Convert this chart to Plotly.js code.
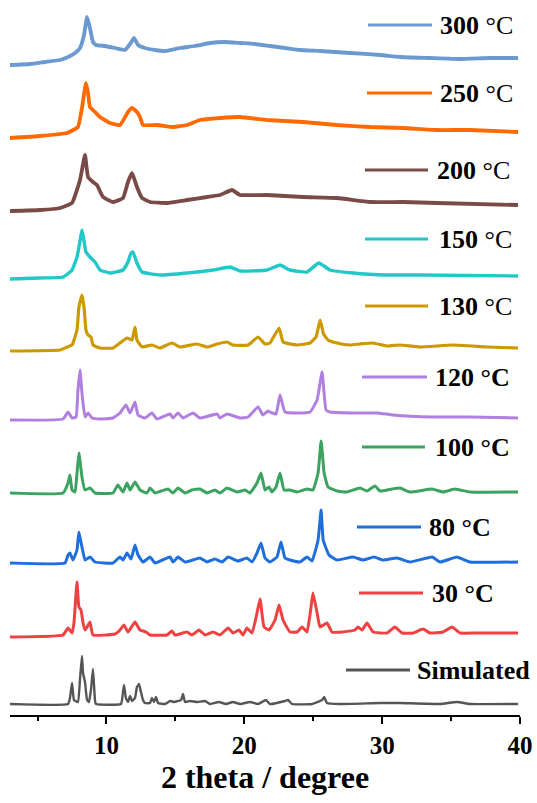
<!DOCTYPE html>
<html><head><meta charset="utf-8">
<script src="https://cdn.plot.ly/plotly-3.0.1.min.js"></script>
<style>html,body{margin:0;padding:0;background:#fff}#chart{width:537px;height:803px}</style>
</head><body><div id="chart"></div>
<script>
// ---- data: 2θ (degree) and intensity (a.u., baseline-subtracted), stacked with offsets ----
const labels = ['Simulated','30 °C','80 °C','100 °C','120 °C','130 °C','150 °C','200 °C','250 °C','300 °C'];
const offsets = [11, 78, 152, 222, 295, 364, 436, 504, 577, 650];
const colors = ['#555555','#EE4242','#1E6FDC','#3BA35F','#B07FE0','#CC9900','#22C8C8','#7A4A47','#FF6A00','#6A9AD0'];

const xSim = [3.0,7.21,7.35,7.50,7.64,7.93,8.08,8.22,8.30,8.44,8.59,8.73,8.88,9.02,9.17,9.24,11.05,11.2,11.27,11.41,11.56,11.71,11.85,12.07,12.21,12.36,12.50,12.65,12.79,13.16,13.3,13.45,13.59,13.74,14.25,14.61,14.9,15.41,15.55,15.7,16.06,16.57,17.15,17.51,18.16,18.67,19.18,19.69,20.41,21.0,21.57,21.86,22.95,23.17,23.46,24.91,25.64,25.79,26.0,26.94,29.84,31.29,34.2,35.43,36.37,39.86];
const ySim = [0,0,6,21,4,2,25,48,31,22,4,2,15,35,3,0,0,12,19,6,2,8,3,6,17,20,12,4,1,1,6,2,7,1,0,3,2,4,10,2,3,2,3,0,2,0,2,0,2,0,4,0,3,4,0,0,4,7,1,0,1,1,0,2,0,0];

const x30 = [3.0,6.85,7.21,7.50,7.64,7.86,8.0,8.15,8.30,8.44,8.59,8.80,9.02,10.62,10.98,11.27,11.56,12.07,12.43,12.87,13.16,14.39,14.75,14.97,15.84,16.2,16.71,17.15,17.73,18.24,18.82,19.18,19.62,19.9,20.19,20.56,20.92,21.14,21.43,21.79,22.23,22.52,22.81,23.31,23.82,24.19,24.55,24.84,24.98,25.28,25.49,26.0,26.36,27.16,28.03,28.25,28.54,28.9,29.34,30.35,30.93,31.44,32.24,32.96,33.47,34.41,35.07,35.65,36.88,39.86];
const y30 = [0,2,9,4,14,55,30,27,14,7,10,15,2,3,7,12,5,15,7,5,2,2,6,2,5,2,7,2,5,2,9,4,7,2,9,4,24,38,10,7,17,32,17,5,5,10,5,30,44,24,10,14,5,5,7,10,7,14,5,4,10,4,4,8,4,5,10,4,4,4];

const x80 = [3.0,6.99,7.21,7.35,7.57,7.86,8.0,8.22,8.44,8.80,9.17,10.47,10.98,11.2,11.49,11.78,12.07,12.29,12.65,13.16,13.52,14.61,14.83,15.19,15.7,16.78,17.29,17.87,18.38,18.82,19.54,20.19,20.56,20.92,21.21,21.5,21.86,22.37,22.66,22.95,23.31,24.04,24.55,24.91,25.35,25.57,25.72,26.14,26.72,27.88,28.61,29.41,30.06,31.08,32.02,33.62,34.2,35.43,36.37,39.86];
const y80 = [0,0,8,10,3,13,31,16,3,6,1,0,6,3,10,4,18,8,1,6,0,6,1,6,1,5,1,4,1,6,2,5,1,10,20,5,1,6,21,5,3,1,6,2,23,53,23,8,3,6,3,6,3,5,1,6,1,6,1,1];

const x100 = [3.0,6.85,7.21,7.35,7.50,7.72,7.86,8.0,8.22,8.44,8.80,9.17,10.47,10.83,11.2,11.49,11.71,12.07,12.43,12.94,13.16,13.52,14.46,14.83,15.19,15.7,16.2,16.78,17.29,17.87,18.24,18.74,19.47,20.05,20.41,20.92,21.21,21.5,21.79,22.0,22.3,22.59,22.88,23.31,23.82,24.55,24.98,25.35,25.57,25.79,26.07,26.72,27.45,28.39,28.9,29.48,29.84,30.71,31.29,32.02,33.62,34.41,35.28,36.37,39.86];
const y100 = [0,0,10,18,3,1,20,40,16,3,5,0,0,8,1,10,3,11,3,0,5,0,4,0,5,0,3,4,0,3,0,5,1,3,0,10,20,3,6,1,6,20,3,3,1,4,3,20,52,20,6,2,1,5,2,7,2,4,5,1,4,1,4,1,1];

const x120 = [3.0,6.85,7.21,7.50,7.79,7.93,8.08,8.22,8.44,8.66,8.95,9.53,10.47,10.98,11.41,11.71,12.07,12.29,12.79,13.3,13.66,14.61,14.83,15.19,15.55,16.28,16.78,18.02,18.24,18.74,19.69,20.27,21.0,21.35,21.72,21.86,22.3,22.59,22.95,23.82,24.77,25.28,25.64,25.93,26.22,27.88,29.63,30.79,33.69,36.37,39.86];
const y120 = [0,1,8,2,3,30,50,27,3,7,2,1,2,7,15,7,18,5,2,7,1,6,2,7,2,7,2,6,2,6,2,3,13,5,9,8,6,25,8,7,8,20,48,10,8,7,7,5,3,3,2];

const x130 = [3.0,6.63,7.14,7.50,7.86,8.0,8.22,8.37,8.51,8.66,8.88,9.02,9.53,10.47,10.98,11.49,11.85,12.07,12.21,12.58,13.3,13.88,14.75,15.33,16.57,17.29,18.02,18.74,19.18,20.27,21.0,21.5,21.86,22.52,22.81,23.82,24.77,25.2,25.5,25.75,26.07,26.72,27.67,28.39,29.34,30.35,31.29,32.74,35.14,37.61,39.86];
const y130 = [0,1,4,6,21,44,56,44,21,16,14,6,3,3,8,13,11,24,11,4,6,3,8,4,7,4,7,9,6,6,14,7,8,23,9,6,8,14,31,17,11,8,6,7,8,5,6,4,6,4,3];

const x150 = [3.0,5.18,6.85,7.50,7.86,8.08,8.22,8.37,8.51,8.80,9.17,9.53,10.25,11.2,11.56,11.78,11.92,12.21,12.58,13.88,15.84,17.73,18.96,19.69,21.65,22.59,23.31,24.55,25.4,26.22,27.88,30.35,32.74,39.86];
const y150 = [0,1,2,9,22,38,49,38,27,22,17,9,6,9,17,26,27,16,7,4,6,9,12,8,9,14,9,7,16,9,6,4,4,3];

const x200 = [3.0,5.18,6.63,7.50,8.08,8.44,8.66,9.02,9.31,9.75,10.47,11.2,11.56,11.85,12.21,12.58,13.16,14.39,15.84,17.29,18.24,19.11,19.69,21.65,24.26,26.72,29.12,31.51,33.98,39.86];
const y200 = [0,1,3,8,31,56,34,29,26,14,9,13,29,38,24,13,9,8,11,14,16,21,16,16,14,13,9,9,8,6];

const x250 = [3.0,5.18,7.14,7.93,8.22,8.51,8.66,8.80,9.17,9.53,10.25,10.98,11.56,11.85,12.21,12.43,12.65,13.66,14.83,15.84,16.78,18.24,19.69,21.65,24.26,26.72,29.12,31.51,33.98,36.37,39.86];
const y250 = [0,2,5,11,30,55,45,31,26,21,15,13,26,30,26,21,13,13,11,13,18,20,21,18,16,13,11,10,8,8,6];

const x300 = [3.0,4.45,5.54,6.63,7.21,7.72,8.08,8.37,8.59,8.80,9.02,9.24,9.89,10.62,11.34,11.71,12.0,12.29,12.79,13.52,14.25,15.33,16.42,17.51,18.6,19.69,20.77,21.86,22.95,24.04,25.49,27.67,29.84,31.29,33.47,35.65,37.82,39.86];
const y300 = [0,1,3,5,8,12,17,30,48,37,23,20,19,17,15,21,27,20,17,15,14,17,19,22,23,22,21,19,17,15,14,12,10,8,7,6,7,7];

const xData = [xSim,x30,x80,x100,x120,x130,x150,x200,x250,x300];
const yData = [ySim,y30,y80,y100,y120,y130,y150,y200,y250,y300];

// ---- styling / layout (pixel positions of the in-plot legend keys) ----
const W = 537, H = 803, L = 10, R = 17, T = 0, B = 88;
const PW = W - L - R, PH = H - T - B;
const lineWidths = [2.4, 3, 3, 3, 3, 3.2, 3.4, 3.8, 3.8, 3.8];
// [x0, x1, y (px), text x (px)]
const keyPos = [
  [346, 410, 670, 415],
  [359, 423, 593, 430],
  [357, 421, 527, 427],
  [362, 425, 447, 433],
  [362, 427, 377, 433],
  [365, 428, 306, 437],
  [365, 428, 239, 437],
  [365, 428, 170, 435],
  [367, 432, 93, 438],
  [368, 432, 25, 438]
];
const thinUnit = [false,false,false,false,false,true,true,true,true,true];

const px2x = p => (p - L) / PW;
const py2y = p => (H - B - p) / PH;

const traces = labels.map((name, i) => ({
  type: 'scatter', mode: 'lines', name: name,
  x: xData[i],
  y: yData[i].map(v => v + offsets[i]),
  line: {color: colors[i], width: lineWidths[i], shape: 'spline', smoothing: 0.35},
  showlegend: false, hoverinfo: 'x+name'
}));

const shapes = [], annotations = [];
labels.forEach((name, i) => {
  const k = keyPos[i];
  shapes.push({type: 'line', xref: 'paper', yref: 'paper',
    x0: px2x(k[0]), x1: px2x(k[1]), y0: py2y(k[2]), y1: py2y(k[2]),
    line: {color: colors[i], width: 3}});
  let txt;
  if (name === 'Simulated') txt = '<b>Simulated</b>';
  else {
    const num = name.replace(' °C', '');
    txt = thinUnit[i] ? '<b>' + num + ' </b>°C' : '<b>' + num + ' °C</b>';
  }
  annotations.push({xref: 'paper', yref: 'paper', x: px2x(k[3]), y: py2y(k[2]),
    xanchor: 'left', yanchor: 'middle', showarrow: false, text: txt,
    font: {family: 'Liberation Serif, Times New Roman, serif', size: 26, color: '#000'}});
});

const layout = {
  width: W, height: H,
  margin: {l: L, r: R, t: T, b: B, pad: 0},
  paper_bgcolor: '#fff', plot_bgcolor: '#fff',
  showlegend: false,
  font: {family: 'Liberation Serif, Times New Roman, serif', color: '#000'},
  xaxis: {
    range: [3, 40], tick0: 0, dtick: 10,
    showline: true, linecolor: '#000', linewidth: 2,
    ticks: 'outside', ticklen: 7, tickwidth: 2, tickcolor: '#000',
    minor: {dtick: 5, tick0: 0, ticks: 'outside', ticklen: 4, tickwidth: 2, tickcolor: '#000'},
    showgrid: false, zeroline: false,
    tickfont: {family: 'Liberation Serif, Times New Roman, serif', size: 25, color: '#000', weight: 'bold'},
    title: {text: '<b>2 theta / degree</b>', font: {family: 'Liberation Serif, Times New Roman, serif', size: 32, color: '#000'}, standoff: 7}
  },
  yaxis: {range: [0, PH], visible: false, showgrid: false, zeroline: false, fixedrange: true},
  shapes: shapes,
  annotations: annotations
};

Plotly.newPlot('chart', traces, layout, {displayModeBar: false, staticPlot: true});
</script></body></html>
